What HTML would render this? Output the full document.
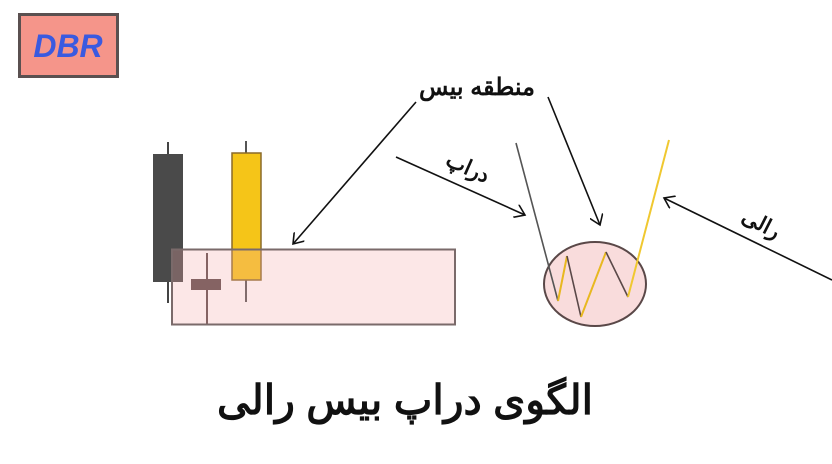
<!DOCTYPE html>
<html><head><meta charset="utf-8"><style>
body{margin:0;width:832px;height:459px;background:#fff;overflow:hidden}
</style></head><body>
<svg width="832" height="459" xmlns="http://www.w3.org/2000/svg" font-family="'Liberation Sans','Noto Sans CJK SC',sans-serif">
<defs><marker id="a" markerWidth="14" markerHeight="14" refX="10" refY="7" orient="auto" markerUnits="userSpaceOnUse"><path d="M0,0 L10,7 L0,14" fill="none" stroke="#111" stroke-width="1.6"/></marker></defs>
<rect x="19.5" y="14.5" width="98" height="62" fill="#f5958a" stroke="#5a5050" stroke-width="3"/>
<text x="68" y="57" text-anchor="middle" font-size="32" font-weight="bold" font-style="italic" fill="#3a5ae0">DBR</text>
<line x1="168" y1="142" x2="168" y2="303" stroke="#444" stroke-width="2"/>
<rect x="153" y="154" width="30" height="128" fill="#4a4a4a"/>
<line x1="246" y1="141" x2="246" y2="302" stroke="#555" stroke-width="2"/>
<rect x="232" y="153" width="29" height="127" fill="#f5c518" stroke="#8a6a2a" stroke-width="1.5"/>
<line x1="207" y1="253" x2="207" y2="325" stroke="#5a4848" stroke-width="2"/>
<rect x="191" y="279" width="30" height="11" fill="#5a4848"/>
<rect x="172" y="249.5" width="283" height="75" fill="rgba(245,170,170,0.28)" stroke="#7a6a6a" stroke-width="2"/>
<ellipse cx="595" cy="284" rx="51" ry="42" fill="#f9dcdc" stroke="#5a4848" stroke-width="2"/>
<polyline points="516,143 558,301" fill="none" stroke="#555" stroke-width="1.6"/>
<polyline points="558,301 567,256" fill="none" stroke="#e8b820" stroke-width="2"/>
<polyline points="567,256 581,317" fill="none" stroke="#5a4848" stroke-width="1.6"/>
<polyline points="581,317 606,252" fill="none" stroke="#e8b820" stroke-width="2"/>
<polyline points="606,252 628,297" fill="none" stroke="#5a4848" stroke-width="1.6"/>
<polyline points="628,297 669,140" fill="none" stroke="#f0c830" stroke-width="2"/>
<line x1="416" y1="102" x2="293" y2="244" stroke="#111" stroke-width="1.6" marker-end="url(#a)"/>
<line x1="548" y1="97" x2="600" y2="225" stroke="#111" stroke-width="1.6" marker-end="url(#a)"/>
<line x1="396" y1="157" x2="525" y2="215" stroke="#111" stroke-width="1.6" marker-end="url(#a)"/>
<line x1="832" y1="280" x2="664" y2="198" stroke="#111" stroke-width="1.6" marker-end="url(#a)"/>
<text x="477" y="95" text-anchor="middle" font-size="24" font-weight="bold" fill="#111">منطقه بیس</text>
<text x="0" y="0" transform="translate(465,174) rotate(24)" text-anchor="middle" font-size="21" font-weight="bold" fill="#111">دراپ</text>
<text x="0" y="0" transform="translate(758,230) rotate(27)" text-anchor="middle" font-size="21" font-weight="bold" fill="#111">رالی</text>
<text x="405" y="414" text-anchor="middle" font-size="41" font-weight="bold" fill="#111">الگوی دراپ بیس رالی</text>
</svg>
</body></html>
